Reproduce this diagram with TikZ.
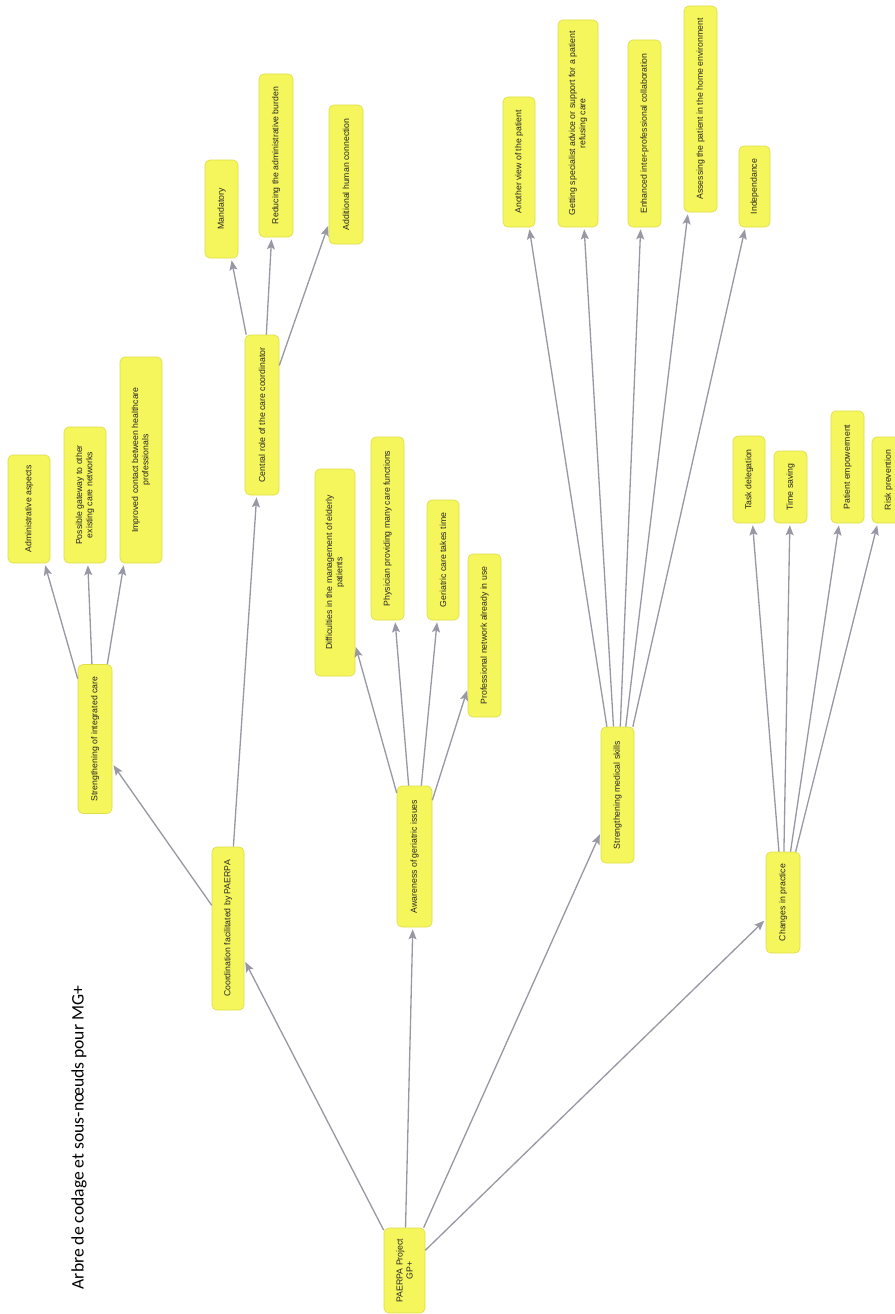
\documentclass[tikz,border=0pt]{standalone}
\usepackage{fontspec}
\setmainfont{Liberation Sans}
\newfontfamily\titlefont{Carlito}
\usepackage{xcolor}
\usetikzlibrary{arrows.meta}

\definecolor{boxfill}{RGB}{245,245,92}
\definecolor{boxline}{RGB}{222,222,72}
\definecolor{linkgray}{RGB}{152,152,164}

\begin{document}
\begin{tikzpicture}[x=0.25mm, y=-0.25mm,
    box/.style={rotate=90, draw=boxline, fill=boxfill, line width=0.45pt,
      rounded corners=1.2mm, inner sep=0pt, align=center, text=black!85,
      font=\fontsize{6.2}{7.2}\selectfont},
    link/.style={draw=linkgray, line width=0.33mm, shorten >=0.5mm,
      -{Stealth[length=2.5mm, width=2mm, inset=0.5mm]}}]
  \useasboundingbox (0,0) rectangle (894,1314);

  % title, read from bottom to top
  \node[rotate=90, font=\titlefont\fontsize{12.5}{15}\selectfont] (title) at (79,1137.5)
    {Arbre de codage et sous-nœuds pour MG+};

  % root
  \node[box, minimum width=85*0.25mm, minimum height=41*0.25mm] (root) at (404.5,1270.5)
    {PAERPA Project\\GP+};

  % first level
  \node[box, minimum width=163*0.25mm, minimum height=32*0.25mm] (coord) at (228,928.5)
    {Coordination facilitated by PAERPA};
  \node[box, minimum width=141*0.25mm, minimum height=35*0.25mm] (aware) at (414.5,856.5)
    {Awareness of geriatric issues};
  \node[box, minimum width=136*0.25mm, minimum height=33*0.25mm] (medical) at (617.5,795)
    {Strengthening medical skills};
  \node[box, minimum width=101*0.25mm, minimum height=34*0.25mm] (changes) at (783,902.5)
    {Changes in practice};

  % below coordination
  \node[box, minimum width=149*0.25mm, minimum height=34*0.25mm] (integ) at (95,739)
    {Strengthening of integrated care};
  \node[box, minimum width=160*0.25mm, minimum height=34*0.25mm] (central) at (262,415)
    {Central role of the care coordinator};

  \node[box, minimum width=108*0.25mm, minimum height=42*0.25mm] (admin) at (29,509)
    {Administrative aspects};
  \node[box, minimum width=136*0.25mm, minimum height=42*0.25mm] (gateway) at (85,495)
    {Possible gateway to other\\existing care networks};
  \node[box, minimum width=206*0.25mm, minimum height=42*0.25mm] (contact) at (141,460)
    {Improved contact between healthcare\\professionals};

  \node[box, minimum width=98*0.25mm, minimum height=33*0.25mm] (mandatory) at (221.5,209)
    {Mandatory};
  \node[box, minimum width=163*0.25mm, minimum height=34*0.25mm] (burden) at (276,155.5)
    {Reducing the administrative burden};
  \node[box, minimum width=139*0.25mm, minimum height=34*0.25mm] (human) at (346,174.5)
    {Additional human connection};

  % below awareness
  \node[box, minimum width=207*0.25mm, minimum height=40*0.25mm] (diffic) at (335,572.5)
    {Difficulties in the management of elderly\\patients};
  \node[box, minimum width=183*0.25mm, minimum height=33*0.25mm] (physician) at (387.5,528.5)
    {Physician providing many care functions};
  \node[box, minimum width=120*0.25mm, minimum height=32*0.25mm] (geriatric) at (443,560)
    {Geriatric care takes time};
  \node[box, minimum width=163*0.25mm, minimum height=33*0.25mm] (network) at (484.5,635.5)
    {Professional network already in use};

  % below medical skills
  \node[box, minimum width=130*0.25mm, minimum height=32*0.25mm] (another) at (519,162)
    {Another view of the patient};
  \node[box, minimum width=207*0.25mm, minimum height=40*0.25mm] (specialist) at (578,123.5)
    {Getting specialist advice or support for a patient\\refusing care};
  \node[box, minimum width=187*0.25mm, minimum height=33*0.25mm] (enhanced) at (644.5,133.5)
    {Enhanced inter-professional collaboration};
  \node[box, minimum width=206*0.25mm, minimum height=33*0.25mm] (assessing) at (700.5,109)
    {Assessing the patient in the home environment};
  \node[box, minimum width=81*0.25mm, minimum height=31*0.25mm] (independ) at (754.5,186.5)
    {Independance};

  % below changes
  \node[box, minimum width=87*0.25mm, minimum height=32*0.25mm] (task) at (749,479.5)
    {Task delegation};
  \node[box, minimum width=72*0.25mm, minimum height=33*0.25mm] (timesave) at (790.5,487)
    {Time saving};
  \node[box, minimum width=112*0.25mm, minimum height=33*0.25mm] (empower) at (847.5,467)
    {Patient empowerment};
  \node[box, minimum width=86*0.25mm, minimum height=33*0.25mm] (risk) at (888.5,480)
    {Risk prevention};

  % links
  \foreach \c in {coord,aware,medical,changes}
    \draw[link] (root) -- (\c);
  \foreach \c in {integ,central}
    \draw[link] (coord) -- (\c);
  \foreach \c in {admin,gateway,contact}
    \draw[link] (integ) -- (\c);
  \foreach \c in {mandatory,burden,human}
    \draw[link] (central) -- (\c);
  \foreach \c in {diffic,physician,geriatric,network}
    \draw[link] (aware) -- (\c);
  \foreach \c in {another,specialist,enhanced,assessing,independ}
    \draw[link] (medical) -- (\c);
  \foreach \c in {task,timesave,empower,risk}
    \draw[link] (changes) -- (\c);
\end{tikzpicture}
\end{document}
